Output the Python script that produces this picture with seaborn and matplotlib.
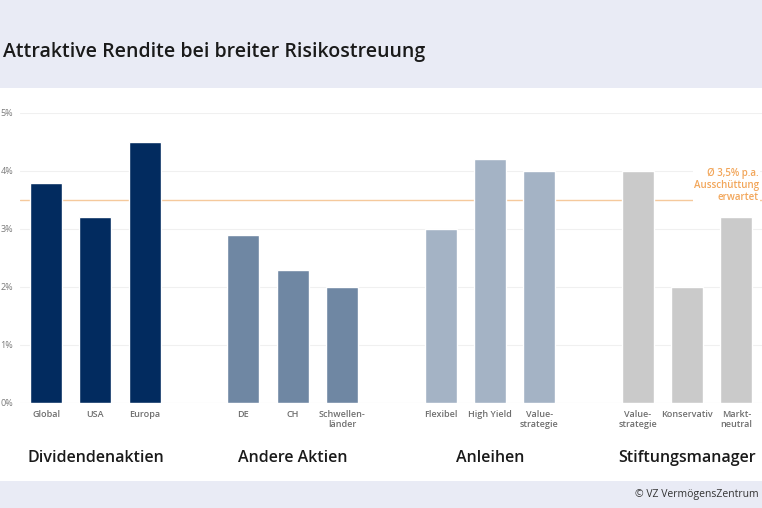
import matplotlib
matplotlib.use("Agg")
import matplotlib.pyplot as plt
import matplotlib.patches as mpatches
import pandas as pd
import seaborn as sns

sns.set_theme(style="white")
plt.rcParams["font.family"] = ["Open Sans", "DejaVu Sans"]

# data (dividend yield in %)
groups = ["Dividendenaktien", "Andere Aktien", "Anleihen", "Stiftungsmanager"]
labels = [
    "Global", "USA", "Europa",
    "DE", "CH", "Schwellen-\nländer",
    "Flexibel", "High Yield", "Value-\nstrategie",
    "Value-\nstrategie", "Konservativ", "Markt-\nneutral",
]
values = [3.8, 3.2, 4.5, 2.9, 2.3, 2.0, 3.0, 4.2, 4.0, 4.0, 2.0, 3.2]
group_of = [g for g in groups for _ in range(3)]
positions = [0, 1, 2, 4, 5, 6, 8, 9, 10, 12, 13, 14]
colors = ["#022b5f", "#6f87a3", "#a4b3c5", "#cacaca"]
avg_payout = 3.5
yticks = [0, 1, 2, 3, 4, 5]

df = pd.DataFrame({"pos": positions, "value": values, "group": group_of})

fig = plt.figure(figsize=(7.62, 5.08), dpi=100)
fig.patch.set_facecolor("white")
# header / footer bands
fig.patches.append(mpatches.Rectangle((0, 1 - 88 / 508), 1, 88 / 508, transform=fig.transFigure,
                                      facecolor="#e9ebf5", edgecolor="none", zorder=0))
fig.patches.append(mpatches.Rectangle((0, 0), 1, 27 / 508, transform=fig.transFigure,
                                      facecolor="#e9ebf5", edgecolor="none", zorder=0))

ax = fig.add_axes([20 / 762, 105 / 508, 742 / 762, 290 / 508])
ax.set_facecolor("none")

for y in yticks:
    ax.axhline(y, color="#f0f0f0" if y else "#dddddd", lw=0.8, zorder=0)
ax.axhline(avg_payout, color="#f5c99c", lw=1.0, zorder=1)

sns.barplot(data=df, x="pos", y="value", hue="group", palette=colors,
            native_scale=True, dodge=False, width=0.65, legend=False,
            saturation=1, ax=ax, zorder=2)

ax.set_xlim(-0.53, 14.52)
ax.set_ylim(0, 5)
ax.set_xticks(positions)
ax.set_xticklabels(labels, fontsize=6.5, color="#6e6e6e", fontweight="semibold", linespacing=1.1, va="top")
ax.set_yticks(yticks)
ax.set_yticklabels([f"{y}%" for y in yticks], fontsize=6.5, color="#7a7a7a")
ax.tick_params(axis="y", length=0, pad=5)
ax.tick_params(axis="x", length=0, pad=5)
ax.set_xlabel("")
ax.set_ylabel("")
for s in ax.spines.values():
    s.set_visible(False)

for i, g in enumerate(groups):
    ax.text(4 * i + 1, -0.95, g, ha="center", va="center", fontsize=11.5,
            fontweight="semibold", color="#1a1a1a")

ax.text(14.46, 3.75, "Ø 3,5% p.a.\nAusschüttung\nerwartet", ha="right", va="center",
        fontsize=7, fontweight="semibold", color="#f2a65a", linespacing=1.1,
        bbox=dict(facecolor="white", edgecolor="none", pad=0.5), zorder=3)

fig.text(3 / 762, 1 - 52 / 508, "Attraktive Rendite bei breiter Risikostreuung",
         ha="left", va="center", fontsize=14, fontweight="semibold", color="#1a1a1a")
fig.text(759 / 762, 13 / 508, "© VZ VermögensZentrum", ha="right", va="center",
         fontsize=7.5, color="#333333")

fig.savefig("out.png", dpi=100)
